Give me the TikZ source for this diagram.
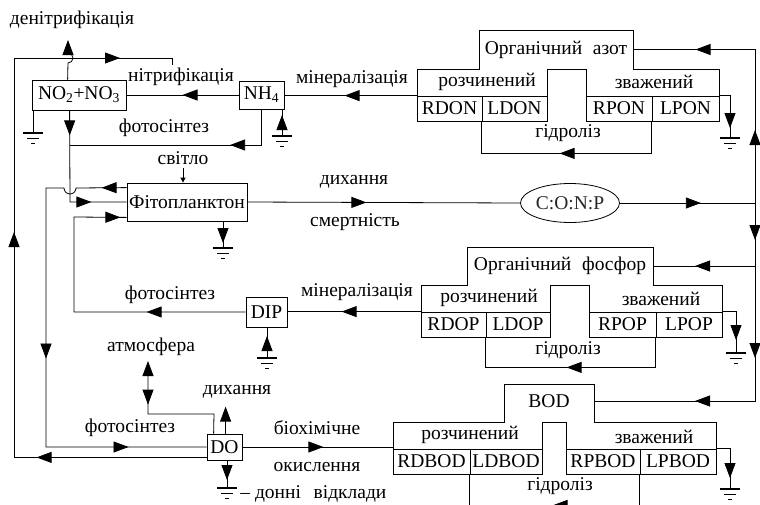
\documentclass[tikz,border=0pt]{standalone}
\usepackage{fontspec}
\setmainfont{Liberation Serif}
\usetikzlibrary{positioning,arrows.meta,shapes.geometric,decorations.markings}

\tikzset{
  Tri/.tip={Triangle[length=15pt,width=11pt]},
  ar/.style={postaction={decorate,decoration={markings,
      mark=at position #1 with {\arrow{Tri}}}}},
  ra/.style={postaction={decorate,decoration={markings,
      mark=at position #1 with {\arrowreversed{Tri}}}}},
  box/.style={draw,inner sep=0pt},
  cell/.style={draw,inner sep=0pt,minimum height=25},
  title/.style={inner sep=0pt},
  lbl/.style={inner sep=0pt},
  earth/.pic={
    \draw[line width=1.6pt] (-10,0) -- (10,0);
    \draw (-6,5) -- (6,5);
    \draw (-2,10) -- (2,10);
  }
}

\begin{document}
\begin{tikzpicture}[x=1pt,y=-1pt,line width=0.8pt,
    font=\fontsize{19.5}{22}\selectfont]
  \useasboundingbox (0,0) rectangle (760,504);

  % nodes
  \node[box,minimum width=94,minimum height=30] (no2) at (79,95)
    {NO\textsubscript{2}+NO\textsubscript{3}};
  \node[box,minimum width=45,minimum height=28] (nh4) at (261.5,95)
    {NH\textsubscript{4}};
  \node[box,minimum width=120,minimum height=38] (fito) at (187,202)
    {Фітопланктон};
  \node[draw,ellipse,inner sep=0pt,minimum width=99,minimum height=39,
    text=black!85] (conp) at (570,203) {C:O:N:P};
  \node[box,minimum width=41,minimum height=30] (dip) at (266.5,312) {DIP};
  \node[box,minimum width=35,minimum height=26] (do) at (224.5,447) {DO};

  % organic nitrogen
  \draw (417,121) -- (417,69) -- (479,69) -- (479,30) -- (633,30)
    -- (633,69) -- (719,69) -- (719,121) -- (586,121) -- (586,69)
    -- (547,69) -- (547,121) -- cycle;
  \node[title,minimum width=154,minimum height=39] (orgN) at (556,49.5)
    {Органічний\hspace{0.3em} азот};
  \node[lbl] (rozchN) at (487,82) {розчинений};
  \node[lbl] (zvazhN) at (654,82) {зважений};
  \node[cell,minimum width=65] (rdon) at (449.5,108.5) {RDON};
  \node[cell,minimum width=65] (ldon) at (514.5,108.5) {LDON};
  \node[cell,minimum width=66] (rpon) at (619,108.5) {RPON};
  \node[cell,minimum width=67] (lpon) at (685.5,108.5) {LPON};

  % organic phosphorus
  \draw (421,337) -- (421,285) -- (467,285) -- (467,247) -- (653,247)
    -- (653,285) -- (722,285) -- (722,337) -- (589,337) -- (589,285)
    -- (550,285) -- (550,337) -- cycle;
  \node[title,minimum width=186,minimum height=38] (orgP) at (560,266)
    {Органічний\hspace{0.3em} фосфор};
  \node[lbl] (rozchP) at (489,298) {розчинений};
  \node[lbl] (zvazhP) at (661,299) {зважений};
  \node[cell,minimum width=65] (rdop) at (453.5,324.5) {RDOP};
  \node[cell,minimum width=64] (ldop) at (518,324.5) {LDOP};
  \node[cell,minimum width=67] (rpop) at (622.5,324.5) {RPOP};
  \node[cell,minimum width=66] (lpop) at (689,324.5) {LPOP};

  % BOD
  \draw (393,474) -- (393,422) -- (504,422) -- (504,384) -- (594,384)
    -- (594,422) -- (716,422) -- (716,474) -- (566,474) -- (566,422)
    -- (542,422) -- (542,474) -- cycle;
  \node[title,minimum width=90,minimum height=34] (bod) at (549,401) {BOD};
  \node[lbl] (rozchB) at (470,435) {розчинений};
  \node[lbl] (zvazhB) at (654,437) {зважений};
  \node[cell,minimum width=77] (rdbod) at (431.5,461.5) {RDBOD};
  \node[cell,minimum width=72] (ldbod) at (506,461.5) {LDBOD};
  \node[cell,minimum width=74] (rpbod) at (603,461.5) {RPBOD};
  \node[cell,minimum width=76] (lpbod) at (678,461.5) {LPBOD};

  % labels
  \node[lbl] (denitr) at (72,20) {денітрифікація};
  \node[lbl] (nitr) at (181,77) {нітрифікація};
  \node[lbl] (minN) at (352,79) {мінералізація};
  \node[lbl] (photo1) at (164,128) {фотосінтез};
  \node[lbl] (svitlo) at (183,158) {світло};
  \node[lbl] (dyh1) at (354,182) {дихання};
  \node[lbl] (smert) at (355,222) {смертність};
  \node[lbl] (photo2) at (170,295) {фотосінтез};
  \node[lbl] (minP) at (357,292) {мінералізація};
  \node[lbl] (hydN) at (568,133) {гідроліз};
  \node[lbl] (hydP) at (568,350) {гідроліз};
  \node[lbl] (hydB) at (560,486) {гідроліз};
  \node[lbl] (atm) at (151,347) {атмосфера};
  \node[lbl] (dyh2) at (237,392) {дихання};
  \node[lbl] (photo3) at (130,428) {фотосінтез};
  \node[lbl] (bio) at (317,428) {біохімічне};
  \node[lbl] (okysl) at (317,467) {окислення};
  \node[lbl,anchor=west] (donni) at (240,494) {– донні\hspace{0.4em} відклади};

  % coordinates
  \coordinate (jn) at (755,203);
  \coordinate (lt) at (14,58);
  \coordinate (tr) at (172,58);
  \coordinate (dn) at (68,40);
  \coordinate (jph) at (70,145);
  \coordinate (atmo) at (148,361);
  \coordinate (gno2) at (33,133);
  \coordinate (gnh4) at (282,136);
  \coordinate (gfito) at (223,248);
  \coordinate (gdip) at (267,358);
  \coordinate (gdo) at (227,488);
  \coordinate (gN) at (730,138);
  \coordinate (gP) at (736,353);
  \coordinate (gB) at (730,489);

  % nitrogen cycle
  \draw[ar=0.5] (nh4.west) -- (no2.east);
  \draw[ar=72pt] (rdon.north west) -- (rdon.north west -| nh4.east);
  \draw[ar=124pt] (lpon.south west) -- ++(0,32) -| (ldon.south west);
  \draw[ar=-10pt] (lpon.north east) -- (lpon.north east -| gN) -- (gN);
  \draw[ar=67pt] (nh4.south) -- (nh4.south |- jph) -- (jph);
  \draw[ar=25pt,ar=113pt] ([xshift=38pt]no2.south west) -- (70,202)
    -- (fito.west);
  \draw[-Tri] ([xshift=36pt]no2.north west) -- (68,63)
    arc[start angle=90,end angle=-90,radius=5] -- (dn);
  \draw (gno2 |- no2.south) -- (gno2);
  \draw[ar=21pt] (gnh4) -- (gnh4 |- nh4.south);

  % phytoplankton
  \draw[-{Triangle[length=5pt,width=5pt]},shorten <=3pt] (svitlo.south)
    -- (svitlo.south |- fito.north);
  \draw[ar=25pt,ar=258pt,ar=429pt] ([yshift=-5pt]fito.north west)
    -- (76,188) arc[start angle=0,end angle=180,radius=6] -- (46,188)
    -- (46,447) -- (do.west);
  \draw[ar=99pt,ar=313pt] (dip.west) -- (74,312) -- (74,217)
    -- ([yshift=4pt]fito.south west);
  \draw[ar=-5pt] (gfito |- fito.south) -- (gfito);
  \draw[ar=119pt] (fito.east) -- (conp.west);

  % right side
  \draw[ar=81pt] (conp.east) -- (jn);
  \draw[ar=73pt,ar=213pt] (jn) -- (jn |- orgN.east) -- (orgN.east);
  \draw[ar=37pt,ar=123pt] (jn) -- (jn |- orgP.east) -- (orgP.east);
  \draw[ar=155pt,ar=258pt] (jn) -- (jn |- bod.east) -- (bod.east);

  % phosphorus
  \draw[ar=79pt] (rdop.north west) -- (rdop.north west -| dip.east);
  \draw[ar=119pt] (lpop.south west) -- ++(0,30) -| (ldop.south west);
  \draw[ar=-13pt] (lpop.north east) -- (lpop.north east -| gP) -- (gP);
  \draw[ar=22pt] (gdip) -- (gdip |- dip.south);

  % oxygen
  \draw[ar=81pt] (do.east) -- (do.east -| rdbod.west);
  \draw[ar=118pt] (lpbod.south west) -- ++(0,31) -| (ldbod.south west);
  \draw[ar=-11pt] (lpbod.north east) -- (lpbod.north east -| gB) -- (gB);
  \draw[-Tri,ra=95pt] ([xshift=7pt]do.north west) -- (214,414)
    -- (atmo |- 0,414) -- (atmo);
  \draw[-Tri] ([xshift=19pt]do.north west) -- ++(0,-27);
  \draw[ar=-8pt] (gdo |- do.south) -- (gdo);
  \draw[ar=170pt,ar=418pt,ar=698pt] ([yshift=3pt]do.south west)
    -- ([yshift=3pt]do.south west -| lt) -- (lt) -- (tr) -- ++(0,7);

  % grounds
  \foreach \g in {gno2,gnh4,gfito,gdip,gdo,gN,gP,gB}
    \pic at (\g) {earth};
\end{tikzpicture}
\end{document}
